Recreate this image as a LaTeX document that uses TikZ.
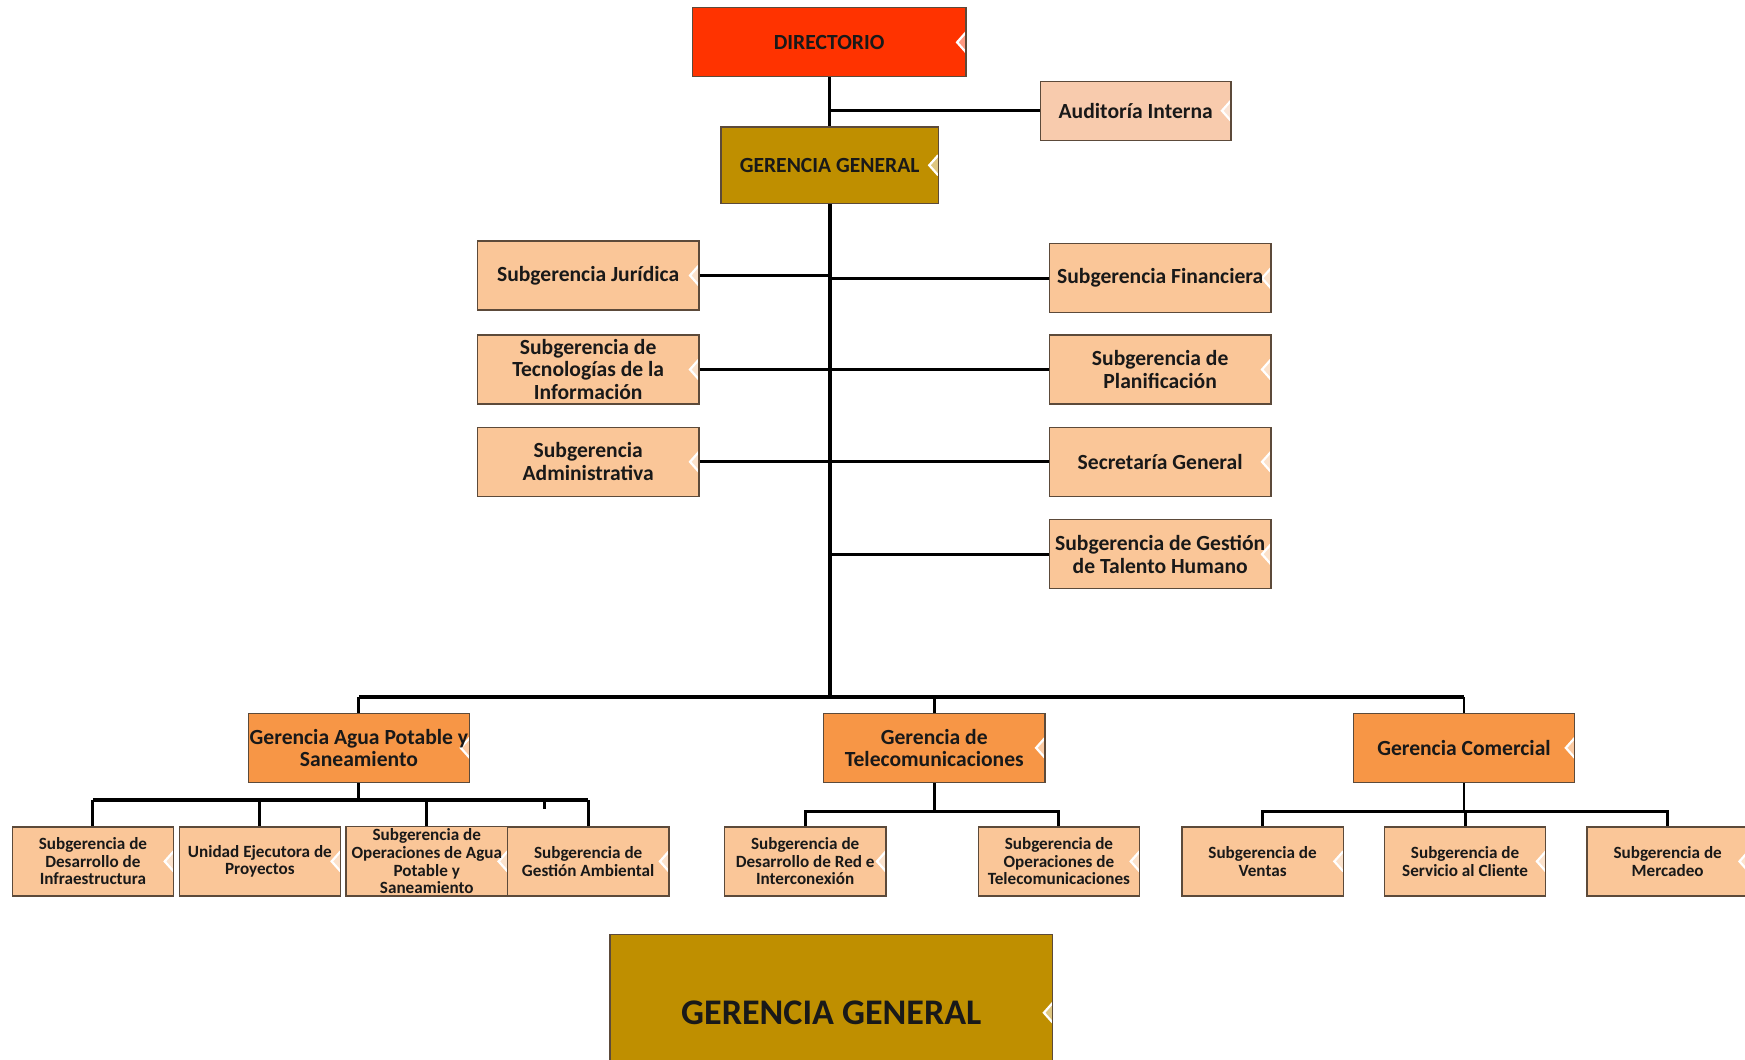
\documentclass[tikz,border=0pt]{standalone}
\usepackage{fontspec}
\setmainfont{Carlito}
\usetikzlibrary{positioning}
\definecolor{dirred}{RGB}{255,51,0}
\definecolor{gengold}{RGB}{191,143,0}
\definecolor{audpeach}{RGB}{248,203,173}
\definecolor{subtan}{RGB}{250,198,152}
\definecolor{gerorange}{RGB}{247,150,70}
\definecolor{boxline}{RGB}{92,74,58}
\tikzset{
  orgbox/.style={draw=boxline, line width=0.6pt, align=center, text=black!90, inner xsep=0.5pt, inner ysep=1pt,
    font=\fontsize{9.7}{10.2}\selectfont\bfseries,
    path picture={\draw[white, line width=1pt, fill=white, fill opacity=0.5]
      ([yshift=4.5pt]path picture bounding box.east) -- ++(-4pt,-4.5pt) -- ++(4pt,-4.5pt);}},
  topbox/.style={orgbox, fill=dirred, minimum width=123pt, minimum height=31pt},
  audbox/.style={orgbox, fill=audpeach, minimum width=85.5pt, minimum height=26.5pt},
  genbox/.style={orgbox, fill=gengold, minimum width=97.5pt, minimum height=34.5pt},
  subbox/.style={orgbox, fill=subtan, minimum width=99.5pt, minimum height=31pt},
  gerbox/.style={orgbox, fill=gerorange, minimum width=99.5pt, minimum height=31pt},
  lowbox/.style={orgbox, fill=subtan, minimum width=72.5pt, minimum height=31pt,
    font=\fontsize{7.7}{7.9}\selectfont\bfseries},
  trunk/.style={line width=1.9pt},
  link/.style={line width=1.3pt}
}
\begin{document}
\begin{tikzpicture}[x=0.5pt, y=-0.5pt]
  \path[use as bounding box, fill=white] (0,0) rectangle (1568,952);

  \node[topbox] (dir) at (745,38) {DIRECTORIO};
  \node[audbox] (aud) at (1020.5,99.5) {Auditoría Interna};
  \node[genbox] (gg) at (745.5,148.5) {GERENCIA GENERAL};

  \node[subbox] (sjur) at (528.5,247.5) {Subgerencia Jurídica};
  \node[subbox] (sti) at (528.5,332) {Subgerencia de\\Tecnologías de la\\Información};
  \node[subbox] (sadm) at (528.5,415) {Subgerencia\\Administrativa};
  \node[subbox] (sfin) at (1042.5,250) {Subgerencia Financiera};
  \node[subbox] (spla) at (1042.5,332) {Subgerencia de\\Planificación};
  \node[subbox] (ssec) at (1042.5,415) {Secretaría General};
  \node[subbox] (stal) at (1042.5,498) {Subgerencia de Gestión\\de Talento Humano};

  \node[gerbox] (gagua) at (322.5,672) {Gerencia Agua Potable y\\Saneamiento};
  \node[gerbox] (gtel) at (839.5,672) {Gerencia de\\Telecomunicaciones};
  \node[gerbox] (gcom) at (1315.5,672) {Gerencia Comercial};

  \node[lowbox] (a1) at (83.5,774) {Subgerencia de\\Desarrollo de\\Infraestructura};
  \node[lowbox] (a2) at (233.5,774) {Unidad Ejecutora de\\Proyectos};
  \node[lowbox] (a3) at (383.5,774) {Subgerencia de\\Operaciones de Agua\\Potable y\\Saneamiento};
  \node[lowbox] (a4) at (528.5,774) {Subgerencia de\\Gestión Ambiental};
  \node[lowbox] (t1) at (723.5,774) {Subgerencia de\\Desarrollo de Red e\\Interconexión};
  \node[lowbox] (t2) at (951.5,774) {Subgerencia de\\Operaciones de\\Telecomunicaciones};
  \node[lowbox] (c1) at (1134.5,774) {Subgerencia de\\Ventas};
  \node[lowbox] (c2) at (1316.5,774) {Subgerencia de\\Servicio al Cliente};
  \node[lowbox] (c3) at (1498.5,774) {Subgerencia de\\Mercadeo};

  \node[orgbox, fill=gengold, minimum width=199pt, minimum height=70pt,
    font=\fontsize{16.2}{18}\selectfont\bfseries] (ggbig) at (747,910) {GERENCIA GENERAL};

  \coordinate (bus) at (745,626);
  \coordinate (busa) at (322.5,719);
  \coordinate (bust) at (839.5,729);
  \coordinate (busc) at (1315.5,729);
  \coordinate (tick) at (489,719);

  \draw[link] (dir.south) -- (dir.south |- gg.north);
  \draw[link] (aud.west) -- (aud.west -| dir.south);
  \draw[trunk] (gg.south) -- (gg.south |- bus);
  \foreach \n in {sjur,sti,sadm}
    \draw[link] (\n.east) -- (\n.east -| gg.south);
  \foreach \n in {sfin,spla,ssec,stal}
    \draw[link] (\n.west) -- (\n.west -| gg.south);

  \draw[trunk] (gagua.north |- bus) -- (gcom.north |- bus);
  \foreach \n in {gagua,gtel,gcom}
    \draw[link] (\n.north) -- (\n.north |- bus);

  \draw[link] (gagua.south) -- (busa);
  \draw[trunk] (a1.north |- busa) -- (a4.north |- busa);
  \foreach \n in {a1,a2,a3,a4}
    \draw[link] (\n.north) -- (\n.north |- busa);
  \draw[link] (tick) -- ++(0,8);

  \draw[link] (gtel.south) -- (bust);
  \draw[link] (t1.north) |- (bust) -| (t2.north);

  \draw[link] (gcom.south) -- (busc);
  \draw[link] (c1.north) |- (busc) -| (c3.north);
  \draw[link] (c2.north) -- (c2.north |- busc);
\end{tikzpicture}
\end{document}
